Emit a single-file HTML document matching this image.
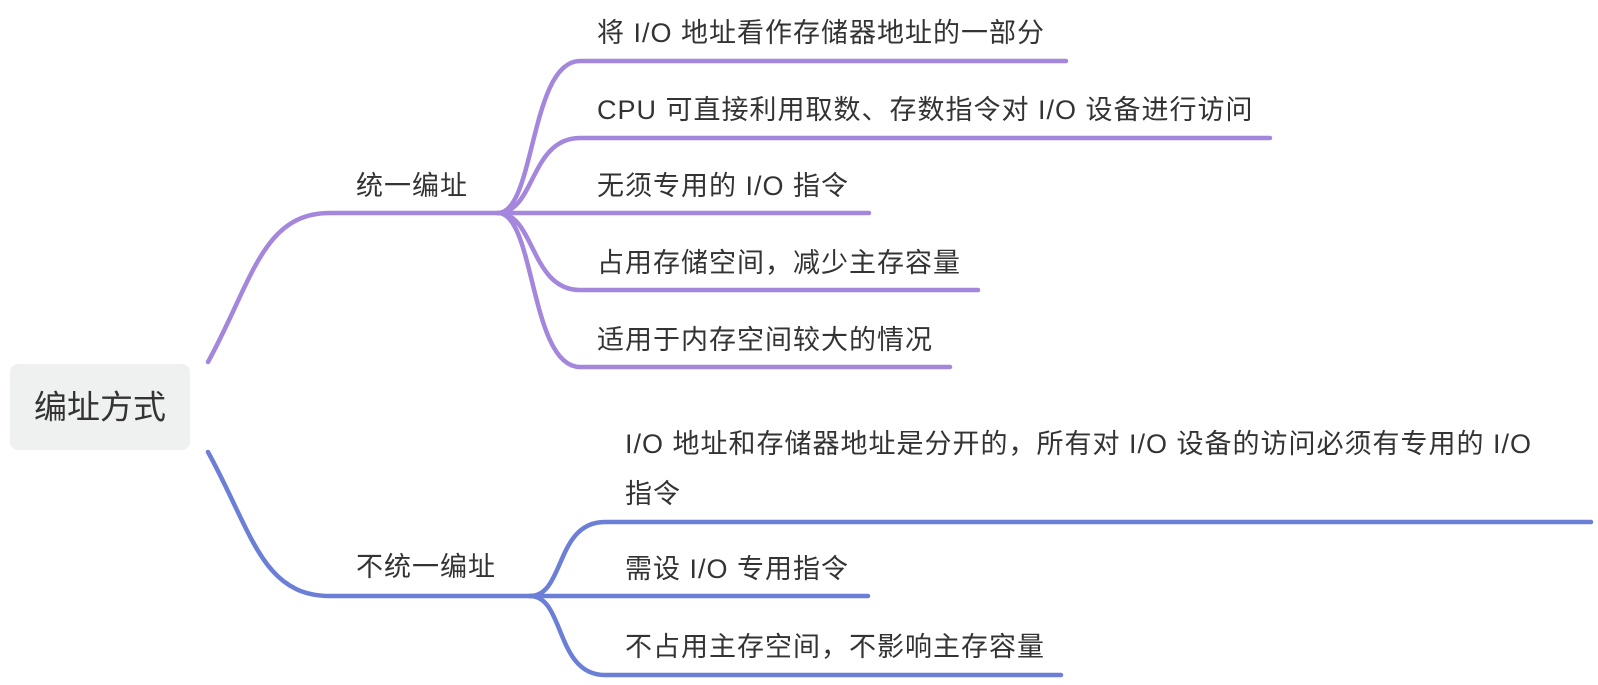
<!DOCTYPE html>
<html><head><meta charset="utf-8"><style>
html,body{margin:0;padding:0;background:#fff;}
svg text{font-family:"Liberation Sans","Noto Sans CJK SC",sans-serif;fill:#333;}
</style></head><body>
<svg width="1598" height="680" viewBox="0 0 1598 680" xmlns="http://www.w3.org/2000/svg">
<rect x="10" y="364" width="180" height="86" rx="8" fill="#eff0f0"/>
<text x="100" y="407" font-size="33" text-anchor="middle" dominant-baseline="central">编址方式</text>
<g fill="none" stroke="#a487dc" stroke-width="4.5" stroke-linecap="round">
<path d="M208,362 C252,282 262,213 330,213 L498,213"/>
<path d="M498,213 C535,213 530,61 580,61 L1066,61"/>
<path d="M498,213 C535,213 530,138 580,138 L1270,138"/>
<path d="M498,213 L869,213"/>
<path d="M498,213 C535,213 530,290 580,290 L978,290"/>
<path d="M498,213 C535,213 530,367 580,367 L950,367"/>
</g>
<g fill="none" stroke="#6b7fd7" stroke-width="4.5" stroke-linecap="round">
<path d="M208,452 C252,532 262,596 330,596 L530,596"/>
<path d="M530,596 C565,596 555,522 605,522 L1591,522"/>
<path d="M530,596 L868,596"/>
<path d="M530,596 C565,596 555,675 605,675 L1061,675"/>
</g>
<g font-size="27" dominant-baseline="central" letter-spacing="1">
<text x="356" y="186">统一编址</text>
<text x="356" y="567">不统一编址</text>
</g>
<g font-size="27" dominant-baseline="central" letter-spacing="1">
<text x="597" y="33">将 I/O 地址看作存储器地址的一部分</text>
<text x="597" y="110">CPU 可直接利用取数、存数指令对 I/O 设备进行访问</text>
<text x="597" y="186">无须专用的 I/O 指令</text>
<text x="597" y="263">占用存储空间，减少主存容量</text>
<text x="597" y="340">适用于内存空间较大的情况</text>
<text x="625" y="444">I/O 地址和存储器地址是分开的，所有对 I/O 设备的访问必须有专用的 I/O</text>
<text x="625" y="494">指令</text>
<text x="625" y="569">需设 I/O 专用指令</text>
<text x="625" y="647">不占用主存空间，不影响主存容量</text>
</g>
</svg>
</body></html>
